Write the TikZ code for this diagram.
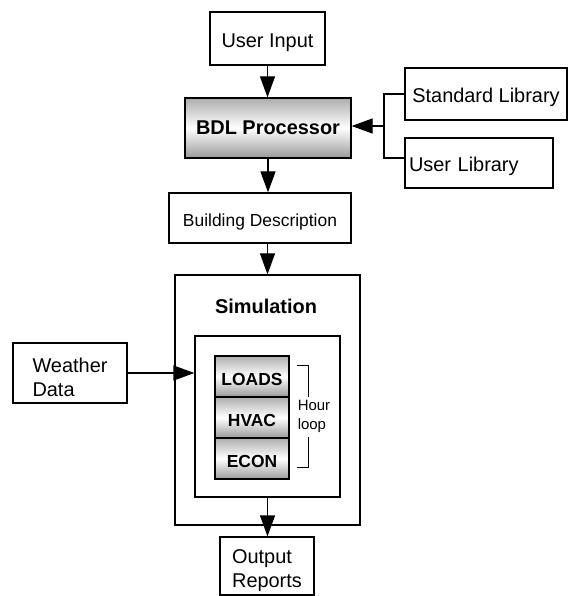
\documentclass[tikz,border=0pt]{standalone}
\usepackage{fontspec}
\setmainfont{Liberation Sans}
\usetikzlibrary{arrows.meta}

\begin{document}
\begin{tikzpicture}[x=1bp,y=-1bp,
  box/.style={draw, line width=1.3bp, inner sep=0pt, align=center,
    font=\fontsize{20}{23.5}\selectfont, text height=18bp, text depth=0pt},
  grad/.style={box, top color=black!32, bottom color=black!40, middle color=white},
  procbox/.style={grad, font=\fontsize{20}{24}\selectfont\bfseries,
    text height=, text depth=},
  stagebox/.style={grad, minimum width=74bp, minimum height=41bp,
    font=\fontsize{17.5}{21}\selectfont\bfseries, text height=18.5bp, text depth=0pt},
  arr/.style={-{Triangle[length=21bp,width=15bp]}, line width=1.3bp},
  conn/.style={line width=1.3bp}]
\useasboundingbox (0,0) rectangle (568,596);

% input and processor
\node[box, minimum width=115bp, minimum height=53bp] (ui) at (267.5,38.5) {User Input};
\node[procbox, minimum width=166bp, minimum height=60bp] (bdl) at (268,128) {BDL Processor};

% libraries
\node[box, minimum width=162bp, minimum height=52bp] (std) at (486,94) {Standard Library};
\node[box, minimum width=148bp, minimum height=50bp, text width=140bp,
  inner xsep=4bp, align=left] (ulib) at (479,163) {User Library};

% building description
\node[box, minimum width=182bp, minimum height=50bp,
  font=\fontsize{17.5}{21}\selectfont, text height=16.5bp] (bd) at (260,218) {Building Description};

% simulation block
\node[box, minimum width=185bp, minimum height=250bp] (sim) at (267.5,400) {};
\node[font=\fontsize{20}{24}\selectfont\bfseries] (simlabel) at (266,306) {Simulation};
\node[box, minimum width=145bp, minimum height=161bp] (inner) at (267.5,416.5) {};
\node[stagebox] (loads) at (252,376.5) {LOADS};
\node[stagebox] (hvac) at (252,417.5) {HVAC};
\node[stagebox] (econ) at (252,458.5) {ECON};
\node[align=left, inner sep=0pt, font=\fontsize{15}{19}\selectfont] (hour) at (314,416) {Hour\\loop};
\draw[line width=1bp] (297,365) -| (308,397);
\draw[line width=1bp] (308,437) |- (297,467);

% weather and output
\node[box, minimum width=114bp, minimum height=60bp, align=left,
  text height=46bp] (weather) at (70,373) {Weather\\Data};
\node[box, minimum width=94bp, minimum height=58bp, align=left,
  text height=42.5bp] (out) at (267,566) {Output\\Reports};

% connectors
\coordinate (jn) at (384,126);
\coordinate (jb) at (384,158);
\draw[conn] (std.west) -| (jb) -- (ulib.west |- jb);
\draw[arr] (jn) -- (bdl.east |- jn);
\draw[arr] (ui.south) -- (ui.south |- bdl.north);
\draw[arr] (bdl.south) -- (bdl.south |- bd.north);
\draw[arr] (bd.south -| sim.north) -- (sim.north);
\draw[arr] (weather.east) -- (weather.east -| inner.west);
\draw[arr] (inner.south) -- (inner.south |- out.north);
\end{tikzpicture}
\end{document}
